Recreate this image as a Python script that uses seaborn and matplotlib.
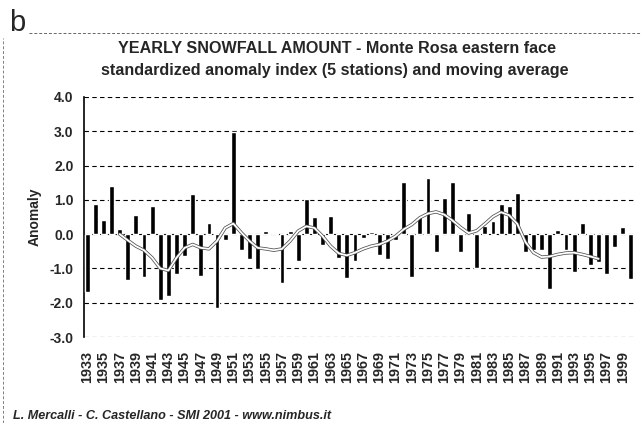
import matplotlib
matplotlib.use('Agg')
import matplotlib.pyplot as plt
import seaborn as sns
from matplotlib.lines import Line2D

# yearly standardized anomaly index (5 stations)
years = list(range(1933, 2001))
anomaly = [-1.69, 0.88, 0.40, 1.40, 0.14, -1.34, 0.56, -1.24, 0.82, -1.93,
           -1.79, -1.16, -0.64, 1.16, -1.22, 0.32, -2.15, -0.17, 2.98, -0.46,
           -0.72, -1.01, 0.10, 0.02, -1.42, 0.09, -0.77, 1.03, 0.50, -0.33,
           0.52, -0.69, -1.29, -0.79, -0.12, 0.06, -0.61, -0.72, -0.17, 1.51,
           -1.25, 0.52, 1.64, -0.51, 1.06, 1.53, -0.51, 0.62, -1.00, 0.25,
           0.38, 0.89, 0.82, 1.20, -0.53, -0.45, -0.45, -1.60, 0.12, -0.45,
           -1.10, 0.32, -0.90, -0.82, -1.15, -0.37, 0.21, -1.30]

# moving average
ma_years = list(range(1937, 1997))
ma_values = [0.00, -0.18, -0.35, -0.47, -0.69, -1.00, -1.06, -0.69, -0.40, -0.30,
             -0.40, -0.43, -0.20, 0.18, 0.31, 0.04, -0.20, -0.40, -0.43, -0.47,
             -0.43, -0.20, 0.09, 0.23, 0.18, -0.06, -0.35, -0.56, -0.62, -0.54,
             -0.43, -0.35, -0.30, -0.20, -0.06, 0.14, 0.28, 0.48, 0.60, 0.65,
             0.57, 0.40, 0.20, 0.03, 0.10, 0.30, 0.51, 0.64, 0.55, 0.30,
             -0.23, -0.54, -0.67, -0.65, -0.59, -0.55, -0.54, -0.59, -0.65, -0.72]

yticks = [-3.0, -2.0, -1.0, 0.0, 1.0, 2.0, 3.0, 4.0]
xtick_years = years[::2]  # 1933 .. 1999

sns.set_style('white')
plt.rcParams['font.family'] = ['Liberation Sans', 'DejaVu Sans']

fig = plt.figure(figsize=(6.41, 4.23), dpi=100)
ax = fig.add_axes([0.131, 0.2033, 0.8596, 0.5674])

sns.barplot(x=years, y=anomaly, native_scale=True, color='black',
            width=0.6, saturation=1, ax=ax, zorder=3)
sns.lineplot(x=ma_years, y=ma_values, color='0.3', lw=2.4, ax=ax, zorder=4)
sns.lineplot(x=ma_years, y=ma_values, color='white', lw=1.3, ax=ax, zorder=5)

ax.set_xlim(1932.6, 2000.5)
ax.set_ylim(-3.0, 4.0)
ax.set_yticks(yticks)
ax.set_yticklabels([f'{v:.1f}' for v in yticks], fontsize=10, fontweight='bold')
ax.set_xticks(xtick_years)
ax.set_xticklabels([str(y) for y in xtick_years], rotation=90,
                   fontsize=10.4, fontweight='bold')
ax.tick_params(axis='x', length=0, pad=10)
ax.tick_params(axis='y', length=7, direction='inout', width=1, pad=4)

for v in yticks:
    ax.axhline(v, color='black', lw=0.8, ls=(0, (4, 3)), zorder=1)

for s in ['top', 'right', 'bottom']:
    ax.spines[s].set_visible(False)
ax.spines['left'].set_linewidth(1.2)
ax.spines['left'].set_color('black')

ax.set_ylabel('Anomaly', fontsize=10, fontweight='bold', labelpad=6)
ax.set_xlabel('')

fig.text(0.526, 0.886, 'YEARLY SNOWFALL AMOUNT - Monte Rosa eastern face',
         ha='center', va='center', fontsize=11.6, fontweight='bold')
fig.text(0.522, 0.833, 'standardized anomaly index (5 stations) and moving average',
         ha='center', va='center', fontsize=11.6, fontweight='bold')

fig.text(0.014, 0.927, 'b', fontsize=21, ha='left', va='baseline')
fig.text(0.02, 0.016, 'L. Mercalli - C. Castellano - SMI 2001 - www.nimbus.it',
         fontsize=9.1, fontweight='bold', fontstyle='italic', ha='left', va='center')

# frame lines of the original figure panel
fig.add_artist(Line2D([0.045, 1.0], [0.922, 0.922], color='0.4', lw=0.7,
                      ls=(0, (3, 2)), transform=fig.transFigure))
fig.add_artist(Line2D([0.005, 0.005], [0.0, 0.91], color='0.5', lw=0.7,
                      ls=(0, (3, 2)), transform=fig.transFigure))

fig.savefig('out.png', dpi=100)
